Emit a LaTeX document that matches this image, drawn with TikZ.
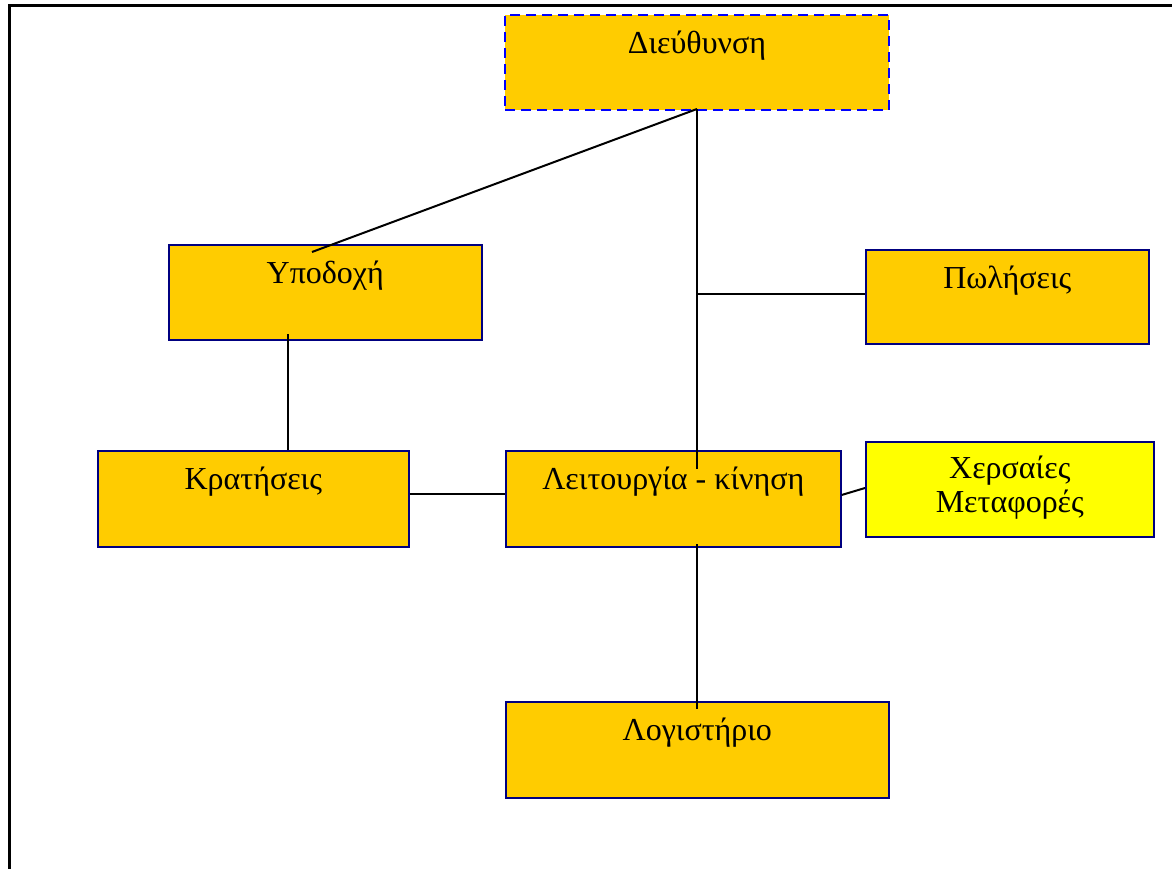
\documentclass[tikz,border=0pt]{standalone}
\usepackage{fontspec}
\setmainfont{Liberation Serif}
\definecolor{boxfill}{HTML}{FFCC00}
\definecolor{boxyellow}{HTML}{FFFF00}
\definecolor{boxline}{HTML}{000080}
\definecolor{dashline}{HTML}{0000FF}
\tikzset{
  orgbox/.style={draw=boxline, line width=1.6pt, fill=boxfill, anchor=north west, inner sep=0pt},
  boxtext/.style={anchor=north, inner sep=0pt, font=\fontsize{32}{34}\selectfont, align=center},
  link/.style={draw=black, line width=2pt},
}
\begin{document}
\begin{tikzpicture}[x=1pt, y=-1pt]
\useasboundingbox (0,0) rectangle (1172,869);
\fill[white] (0,0) rectangle (1172,869);
% frame
\draw[line width=3pt] (9,869) -- (9,6) -- (1172,6);
% boxes
\node[orgbox, draw=dashline, line width=2pt, dash pattern=on 10pt off 6pt, minimum width=384pt, minimum height=95pt] (dir) at (504,14) {};
\node[orgbox, minimum width=313pt, minimum height=95pt] (ypo) at (168,244) {};
\node[orgbox, minimum width=283pt, minimum height=94pt] (pol) at (865,249) {};
\node[orgbox, minimum width=311pt, minimum height=96pt] (kra) at (97,450) {};
\node[orgbox, minimum width=335pt, minimum height=96pt] (lei) at (505,450) {};
\node[orgbox, fill=boxyellow, minimum width=288pt, minimum height=95pt] (xer) at (865,441) {};
\node[orgbox, minimum width=383pt, minimum height=96pt] (log) at (505,701) {};
% texts
\node[boxtext] (dirt) at ([yshift=-17pt]dir.north) {Διεύθυνση};
\node[boxtext] (ypot) at ([yshift=-17pt]ypo.north) {Υποδοχή};
\node[boxtext] (polt) at ([yshift=-17pt]pol.north) {Πωλήσεις};
\node[boxtext] (krat) at ([yshift=-17pt]kra.north) {Κρατήσεις};
\node[boxtext] (leit) at ([yshift=-17pt]lei.north) {Λειτουργία - κίνηση};
\node[boxtext] (xert) at ([yshift=-15pt]xer.north) {Χερσαίες\\Μεταφορές};
\node[boxtext] (logt) at ([yshift=-17pt]log.north) {Λογιστήριο};
% connector points
\coordinate (dirb) at (697,109);
\coordinate (leiin) at (697,469);
\coordinate (ypoin) at (312,252);
\coordinate (spine) at (697,294);
\coordinate (ypob) at (288,334);
\coordinate (leib) at (697,544);
\coordinate (login) at (697,709);
% connectors
\draw[link] (dirb) -- (leiin);
\draw[link] (dirb) -- (ypoin);
\draw[link] (spine) -- (pol.west |- spine);
\draw[link] (ypob) -- (kra.north -| ypob);
\draw[link] (kra.east |- 0,494) -- (lei.west |- 0,494);
\draw[link] (lei.east |- 0,495) -- (xer.west |- 0,488);
\draw[link] (leib) -- (login);
\end{tikzpicture}
\end{document}
